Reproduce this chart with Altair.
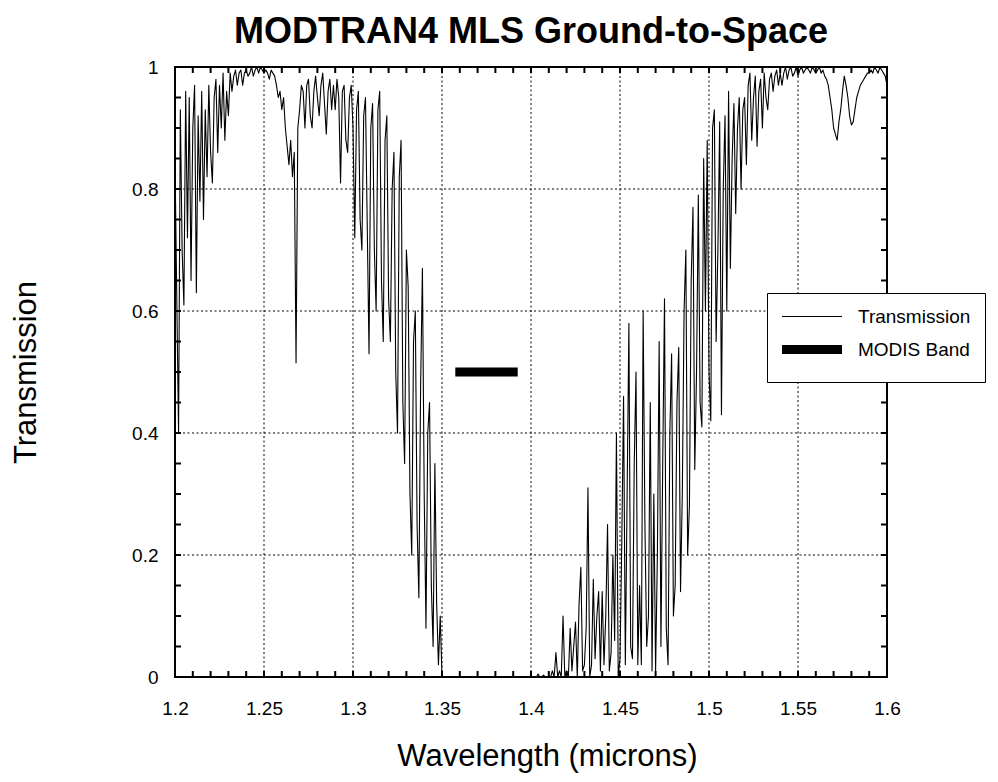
import altair as alt
import pandas as pd

FONT = "Liberation Sans"

WL_START = 1.2
WL_STEP = 0.001
T_START = [0.85]
T_120 = [0.62, 0.40, 0.93, 0.70, 0.61, 0.96, 0.72, 0.95, 0.65, 0.90]
T_121 = [0.97, 0.63, 0.92, 0.78, 0.96, 0.75, 0.93, 0.82, 0.97, 0.86]
T_122 = [0.81, 0.95, 0.98, 0.86, 0.97, 0.90, 0.99, 0.88, 0.96, 0.92]
T_123 = [0.99, 0.96, 0.985, 0.995, 0.97, 0.99, 0.995, 0.97, 0.99, 0.995]
T_124 = [0.985, 0.99, 1.0, 0.985, 0.995, 1.0, 0.99, 1.0, 0.995, 0.99]
T_125 = [0.995, 0.99, 0.98, 0.995, 0.99, 0.985, 0.97, 0.95, 0.96, 0.93]
T_126 = [0.95, 0.90, 0.87, 0.84, 0.88, 0.82, 0.86, 0.515, 0.90, 0.93]
T_127 = [0.97, 0.96, 0.90, 0.97, 0.98, 0.92, 0.90, 0.96, 0.985, 0.95]
T_128 = [0.92, 0.97, 0.99, 0.94, 0.89, 0.96, 0.98, 0.93, 0.97, 0.93]
T_129 = [0.98, 0.95, 0.81, 0.96, 0.97, 0.88, 0.86, 0.95, 0.97, 0.90]
T_130 = [0.72, 0.93, 0.96, 0.75, 0.70, 0.92, 0.95, 0.74, 0.53, 0.90]
T_131 = [0.94, 0.70, 0.60, 0.93, 0.96, 0.65, 0.55, 0.88, 0.92, 0.62]
T_132 = [0.55, 0.80, 0.86, 0.50, 0.40, 0.82, 0.88, 0.45, 0.35, 0.70]
T_133 = [0.64, 0.30, 0.20, 0.55, 0.60, 0.25, 0.13, 0.48, 0.67, 0.30]
T_134 = [0.08, 0.40, 0.45, 0.15, 0.05, 0.35, 0.12, 0.02, 0.10, 0.0]
T_135 = [0.0, 0.0, 0.0, 0.0, 0.0, 0.0, 0.0, 0.0, 0.0, 0.0]
T_136 = [0.0, 0.0, 0.0, 0.0, 0.0, 0.0, 0.0, 0.0, 0.0, 0.0]
T_137 = [0.0, 0.0, 0.0, 0.0, 0.0, 0.0, 0.0, 0.0, 0.0, 0.0]
T_138 = [0.0, 0.0, 0.0, 0.0, 0.0, 0.0, 0.0, 0.0, 0.0, 0.0]
T_139 = [0.0, 0.0, 0.0, 0.0, 0.0, 0.0, 0.0, 0.0, 0.0, 0.0]
T_140 = [0.0, 0.0, 0.0, 0.005, 0.0, 0.0, 0.003, 0.0, 0.0, 0.0]
T_141 = [0.0, 0.01, 0.0, 0.04, 0.0, 0.01, 0.0, 0.10, 0.0, 0.01]
T_142 = [0.0, 0.08, 0.01, 0.05, 0.09, 0.0, 0.12, 0.18, 0.01, 0.02]
T_143 = [0.08, 0.31, 0.0, 0.02, 0.16, 0.03, 0.10, 0.14, 0.01, 0.14]
T_144 = [0.02, 0.10, 0.25, 0.01, 0.04, 0.20, 0.06, 0.40, 0.0, 0.03]
T_145 = [0.22, 0.46, 0.02, 0.30, 0.58, 0.05, 0.03, 0.35, 0.50, 0.02]
T_146 = [0.15, 0.02, 0.60, 0.25, 0.05, 0.10, 0.45, 0.01, 0.30, 0.01]
T_147 = [0.20, 0.55, 0.05, 0.35, 0.62, 0.08, 0.02, 0.40, 0.53, 0.10]
T_148 = [0.15, 0.45, 0.54, 0.14, 0.30, 0.60, 0.70, 0.20, 0.28, 0.65]
T_149 = [0.77, 0.34, 0.50, 0.79, 0.45, 0.41, 0.85, 0.60, 0.88, 0.50]
T_150 = [0.42, 0.90, 0.93, 0.55, 0.70, 0.91, 0.43, 0.80, 0.92, 0.60]
T_151 = [0.96, 0.67, 0.85, 0.94, 0.76, 0.90, 0.95, 0.80, 0.93, 0.95]
T_152 = [0.84, 0.97, 0.99, 0.88, 0.95, 0.985, 0.87, 0.96, 0.98, 0.90]
T_153 = [0.99, 0.95, 0.93, 0.98, 0.99, 0.96, 0.985, 0.995, 0.97, 0.99]
T_154 = [0.97, 0.99, 1.0, 0.98, 0.995, 1.0, 0.985, 0.99, 1.0, 0.985]
T_155 = [0.995, 1.0, 0.99, 0.995, 1.0, 0.995, 0.99, 1.0, 0.995, 0.99]
T_156 = [0.995, 1.0, 0.99, 0.995, 0.985, 0.98, 0.97, 0.95, 0.93, 0.90]
T_157 = [0.89, 0.88, 0.91, 0.93, 0.96, 0.985, 0.97, 0.95, 0.92, 0.905]
T_158 = [0.91, 0.93, 0.95, 0.96, 0.97, 0.975, 0.98, 0.985, 0.99, 0.99]
T_159 = [0.995, 0.99, 1.0, 0.995, 0.99, 1.0, 0.995, 0.99, 0.985, 0.97]

MODIS_WL = [1.36, 1.39]
MODIS_T = [0.5, 0.5]

SERIES = ["Transmission", "MODIS Band"]
X_GRID = [1.25, 1.3, 1.35, 1.4, 1.45, 1.5, 1.55]
Y_GRID = [0.2, 0.4, 0.6, 0.8]
X_TICKS = [round(1.2 + 0.01 * i, 2) for i in range(41)]
Y_TICKS = [round(0.05 * i, 2) for i in range(21)]
X_LABELS = [1.2, 1.25, 1.3, 1.35, 1.4, 1.45, 1.5, 1.55, 1.6]
Y_LABELS = [0, 0.2, 0.4, 0.6, 0.8, 1]

transmission = (T_START + T_120 + T_121 + T_122 + T_123 + T_124 + T_125 + T_126
                + T_127 + T_128 + T_129 + T_130 + T_131 + T_132 + T_133 + T_134
                + T_135 + T_136 + T_137 + T_138 + T_139 + T_140 + T_141 + T_142
                + T_143 + T_144 + T_145 + T_146 + T_147 + T_148 + T_149 + T_150
                + T_151 + T_152 + T_153 + T_154 + T_155 + T_156 + T_157 + T_158
                + T_159)
wavelength = [round(WL_START + WL_STEP * i, 3) for i in range(len(transmission))]

trans_df = pd.DataFrame({"wl": wavelength, "t": transmission,
                         "series": ["Transmission"] * len(transmission)})
modis_df = pd.DataFrame({"wl": MODIS_WL, "t": MODIS_T,
                         "series": ["MODIS Band"] * len(MODIS_WL)})
xtick_df = pd.DataFrame({"xv": X_TICKS})
ytick_df = pd.DataFrame({"yv": Y_TICKS})

W, H = 712, 610
TICK = 6
xscale = alt.Scale(domain=[1.2, 1.6], nice=False, zero=False)
yscale = alt.Scale(domain=[0, 1], nice=False, zero=False)

legend = alt.Legend(
    title=None, orient="none", legendX=592, legendY=226, direction="vertical",
    fillColor="white", strokeColor="black", padding=14,
    symbolType="M-6,0H6", symbolSize=100, symbolOffset=21.5,
    labelFont=FONT, labelFontSize=19, labelColor="black", labelOffset=36.5,
    rowPadding=4, labelLimit=300,
)
color_enc = alt.Color("series:N", scale=alt.Scale(domain=SERIES, range=["black", "black"]), legend=legend)
width_enc = alt.StrokeWidth("series:N", scale=alt.Scale(domain=SERIES, range=[1.1, 9]), legend=legend)

trans = alt.Chart(trans_df).mark_line(strokeJoin="round").encode(
    x=alt.X("wl:Q", scale=xscale, axis=alt.Axis(
        orient="bottom", values=X_LABELS, format="~g",
        labelFlush=False, labelOverlap=False, labelFont=FONT, labelFontSize=19,
        labelColor="black", labelBaseline="alphabetic", labelPadding=37,
        ticks=False, domain=False, grid=False,
        title="Wavelength (microns)", titleFont=FONT, titleFontSize=31,
        titleFontWeight="normal", titleColor="black",
        titleBaseline="alphabetic", titleY=88, titleX=372)),
    y=alt.Y("t:Q", scale=yscale, axis=alt.Axis(
        orient="left", values=Y_LABELS, format="~g",
        labelFlush=False, labelOverlap=False, labelFont=FONT, labelFontSize=19,
        labelColor="black", labelPadding=17,
        ticks=False, domain=False, grid=False,
        title="Transmission", titleFont=FONT, titleFontSize=31,
        titleFontWeight="normal", titleColor="black",
        titleBaseline="alphabetic", titleX=-140, titleY=305)),
    color=color_enc,
    strokeWidth=width_enc,
)

modis = alt.Chart(modis_df).mark_line(strokeCap="square").encode(
    x=alt.X("wl:Q", scale=xscale, axis=None),
    y=alt.Y("t:Q", scale=yscale, axis=None),
    color=color_enc,
    strokeWidth=width_enc,
)

grid_style = dict(color="black", strokeWidth=1, strokeDash=[2, 2.5])
vgrid = alt.Chart(pd.DataFrame({"g": X_GRID})).mark_rule(**grid_style).encode(
    x=alt.X("g:Q", scale=xscale, axis=None))
hgrid = alt.Chart(pd.DataFrame({"g": Y_GRID})).mark_rule(**grid_style).encode(
    y=alt.Y("g:Q", scale=yscale, axis=None))

# inward tick marks on all four sides of the frame
bottom_ticks = alt.Chart(xtick_df).mark_rule(color="black", strokeWidth=2).encode(
    x=alt.X("xv:Q", scale=xscale, axis=None), y=alt.value(H - TICK), y2=alt.value(H))
top_ticks = alt.Chart(xtick_df).mark_rule(color="black", strokeWidth=2).encode(
    x=alt.X("xv:Q", scale=xscale, axis=None), y=alt.value(0), y2=alt.value(TICK))
left_ticks = alt.Chart(ytick_df).mark_rule(color="black", strokeWidth=2).encode(
    y=alt.Y("yv:Q", scale=yscale, axis=None), x=alt.value(0), x2=alt.value(TICK))
right_ticks = alt.Chart(ytick_df).mark_rule(color="black", strokeWidth=2).encode(
    y=alt.Y("yv:Q", scale=yscale, axis=None), x=alt.value(W - TICK), x2=alt.value(W))

chart = alt.layer(
    vgrid, hgrid, bottom_ticks, top_ticks, left_ticks, right_ticks, trans, modis
).resolve_axis(
    x="independent", y="independent"
).properties(
    width=W, height=H,
    padding={"left": 167, "top": 59, "right": 103, "bottom": 97},
    autosize=alt.AutoSizeParams(type="none"),
    title=alt.TitleParams(
        "MODTRAN4 MLS Ground-to-Space", font=FONT, fontSize=36, fontWeight="bold",
        anchor="middle", color="black", offset=7),
    background="white",
).configure_view(stroke="black", strokeWidth=2)

chart.save("out.html", embed_options={"renderer": "svg", "actions": False})
